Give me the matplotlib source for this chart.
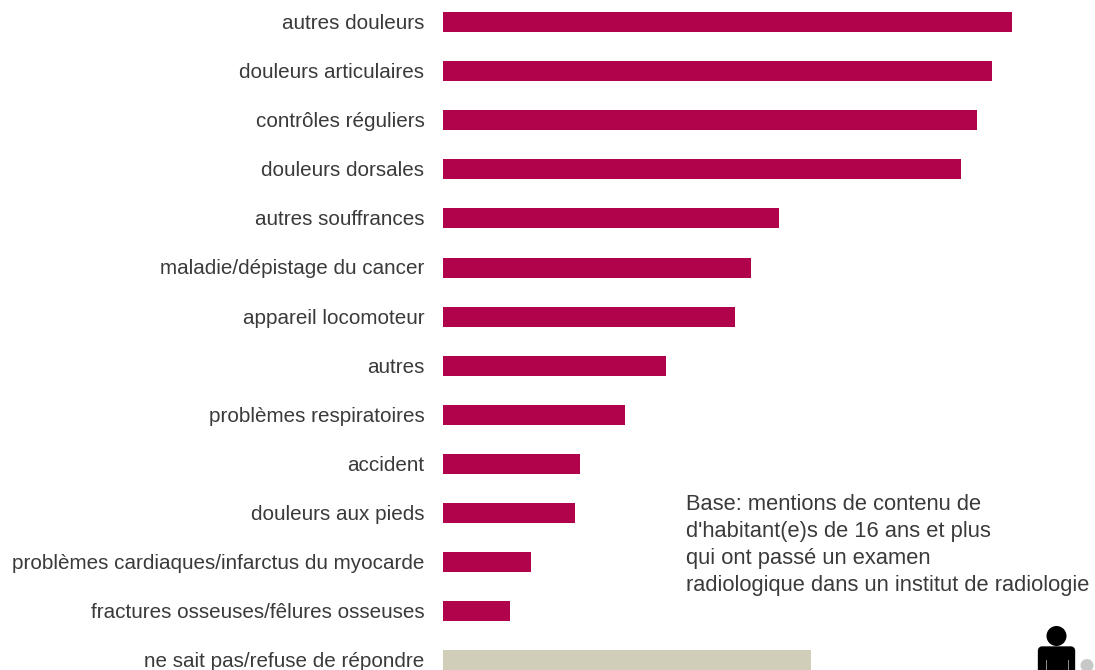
import matplotlib.pyplot as plt
from matplotlib.patches import Circle, FancyBboxPatch, Rectangle

plt.rcParams["font.family"] = ["Liberation Sans", "DejaVu Sans"]

# Data
categories = [
    "autres douleurs", "douleurs articulaires", "contrôles réguliers",
    "douleurs dorsales", "autres souffrances", "maladie/dépistage du cancer",
    "appareil locomoteur", "autres", "problèmes respiratoires", "accident",
    "douleurs aux pieds", "problèmes cardiaques/infarctus du myocarde",
    "fractures osseuses/fêlures osseuses", "ne sait pas/refuse de répondre",
]
values = [569, 549, 534, 518, 336, 308, 292, 223, 182, 137, 132, 88, 67, 368]
bar_colors = ["#b0034c"] * 13 + ["#d0cdb9"]

note_lines = [
    "Base: mentions de contenu de",
    "d'habitant(e)s de 16 ans et plus",
    "qui ont passé un examen",
    "radiologique dans un institut de radiologie",
]

fig = plt.figure(figsize=(10.95, 6.70), dpi=100)

# Axes in pixel units of the picture, zero of the bars at x=443
x0 = 443
ax = fig.add_axes([0, 0, 1, 1])
ax.set_xlim(-x0, 1095 - x0)
ax.set_ylim(670, 0)
ax.axis("off")

y_pos = [22 + i * 49.1 for i in range(len(categories))]
ax.barh(y_pos, values, height=20, color=bar_colors)

for y, name in zip(y_pos, categories):
    ax.text(-18.5, y - 0.5, name, ha="right", va="center_baseline", fontsize=14.9, color="#3a3a3a")

# Note, placed line by line to get the wide spacing
for i, line in enumerate(note_lines):
    ax.text(243, 501.5 + i * 27.2, line, ha="left", va="center_baseline",
            fontsize=15.75, color="#3a3a3a")

# Small person icon, bottom right
ax.add_patch(Circle((1056.5 - x0, 636), 10, color="black", lw=0))
ax.add_patch(FancyBboxPatch((1042 - x0, 650.5), 29, 30, boxstyle="round,pad=0,rounding_size=0",
                            color="black", lw=6, joinstyle="round"))
ax.add_patch(Rectangle((1045.5 - x0, 660), 1.2, 12, color="#888888", lw=0))
ax.add_patch(Rectangle((1067.5 - x0, 660), 1.2, 12, color="#888888", lw=0))
ax.add_patch(Circle((1087 - x0, 665.5), 6.5, color="#c8c8c8", lw=0))

fig.savefig("out.png", dpi=100)
